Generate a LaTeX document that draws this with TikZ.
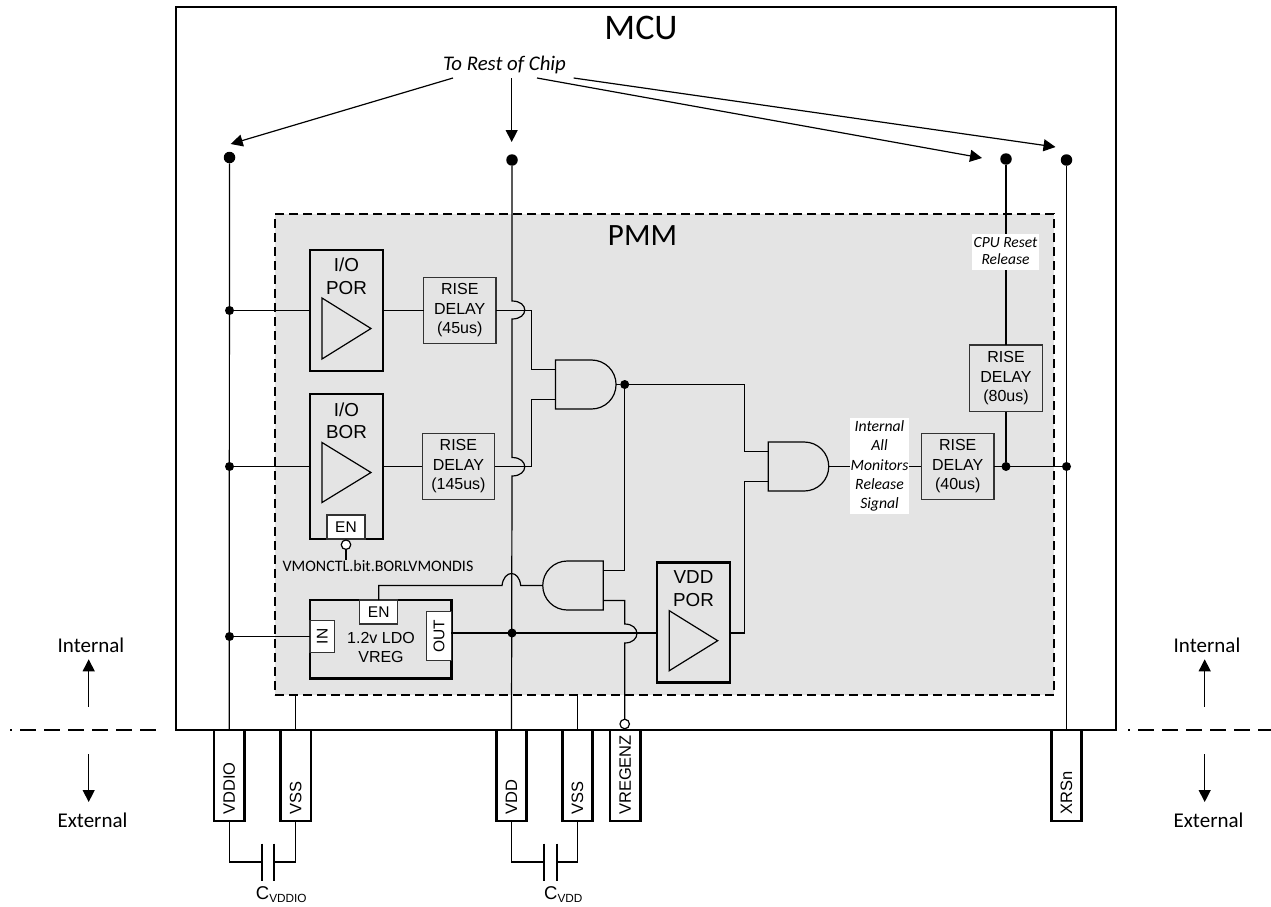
\documentclass[tikz,border=0pt]{standalone}
\usepackage{fontspec}
\setmainfont{Liberation Sans}
\newfontfamily\carlito{Carlito}
\usetikzlibrary{arrows.meta,shapes.misc}
\definecolor{pmmgray}{HTML}{E4E4E4}
\definecolor{delaygray}{HTML}{333333}
\tikzset{
  wire/.style={line width=1.2pt,line join=miter},
  tiparrow/.style={line width=1.2pt,-{Triangle[length=12pt,width=12pt]}},
  heavybox/.style={shape=rectangle,draw=black,line width=2.6pt,fill=pmmgray,inner sep=0pt,outer sep=0pt},
  pinbox/.style={shape=rectangle,draw=black,line width=2.6pt,fill=white,inner sep=0pt,outer sep=0pt,minimum width=30.5pt,minimum height=91pt},
  delaybox/.style={shape=rectangle,draw=delaygray,line width=1.2pt,fill=pmmgray,inner sep=0pt,outer sep=0pt,minimum width=72.5pt,minimum height=66.5pt,align=center,font=\fontsize{16}{19.5}\selectfont},
  portbox/.style={shape=rectangle,draw=delaygray,line width=1.2pt,fill=white,inner sep=0pt,outer sep=0pt,font=\fontsize{15.5}{18}\selectfont},
  andgate/.style={shape=rounded rectangle,rounded rectangle west arc=none,draw=black,line width=1.2pt,fill=pmmgray,inner sep=0pt,outer sep=0pt,minimum width=60.5pt,minimum height=49pt},
  andgateflip/.style={shape=rounded rectangle,rounded rectangle east arc=none,draw=black,line width=1.2pt,fill=pmmgray,inner sep=0pt,outer sep=0pt,minimum width=60.5pt,minimum height=49pt},
  dotbig/.style={shape=circle,fill=black,inner sep=0pt,outer sep=0pt,minimum size=11.5pt},
  dotsmall/.style={shape=circle,fill=black,inner sep=0pt,outer sep=0pt,minimum size=9pt},
  opendot/.style={shape=circle,draw=black,line width=1.2pt,fill=white,inner sep=0pt,outer sep=0pt,minimum size=9.5pt},
  boundary/.style={line width=1.6pt,dash pattern=on 16pt off 8pt,dash phase=14pt},
  sidelabel/.style={inner sep=0pt,font=\carlito\fontsize{21}{24}\selectfont},
  bigtext/.style={inner sep=0pt,align=center,font=\fontsize{18.8}{22.5}\selectfont},
  pintext/.style={inner sep=0pt,rotate=90,anchor=west,font=\fontsize{16.5}{18}\selectfont},
  plate/.style={line width=1.8pt},
  notelabel/.style={shape=rectangle,fill=white,inner sep=0pt,align=center}
}
\begin{document}
\begin{tikzpicture}[x=1pt,y=-1pt]
\useasboundingbox (0,0) rectangle (1271,907);
\node[shape=rectangle,draw=black,line width=2.6pt,inner sep=0pt,outer sep=0pt,minimum width=940pt,minimum height=723pt](MCU) at (646,368.5) {};
\node[shape=rectangle,draw=black,line width=1.2pt,dash pattern=on 9pt off 5pt,fill=pmmgray,inner sep=0pt,outer sep=0pt,minimum width=779pt,minimum height=481pt](PMM) at (664.5,454.5) {};
\node[inner sep=0pt,font=\carlito\fontsize{36}{38}\selectfont](MCUtitle) at (641,28) {MCU};
\node[inner sep=0pt,font=\carlito\fontsize{31}{34}\selectfont](PMMtitle) at (642.5,236) {PMM};
\node[inner sep=0pt,font=\carlito\itshape\fontsize{20.8}{24}\selectfont](toRest) at (504.5,65) {To Rest of Chip};

\coordinate (fromA) at (453,78);
\coordinate (tipA) at (230.7,144);
\coordinate (fromB) at (511.7,78);
\coordinate (tipB) at (511.7,142);
\coordinate (fromC) at (537,78);
\coordinate (tipC) at (982,158);
\coordinate (fromD) at (573.7,78);
\coordinate (tipD) at (1055.5,147);
\path[tiparrow] (fromA) edge (tipA);
\path[tiparrow] (fromB) edge (tipB);
\path[tiparrow] (fromC) edge (tipC);
\path[tiparrow] (fromD) edge (tipD);

\node[dotbig](railIO) at (229.5,157.5) {};
\node[dotbig](railVDD) at (512,160) {};
\node[dotbig](railCPU) at (1006,159) {};
\node[dotbig](railXRS) at (1066.5,160) {};

\node[heavybox,minimum width=73pt,minimum height=121pt](ioPOR) at (346.5,310.5) {};
\node[heavybox,minimum width=73pt,minimum height=145pt](ioBOR) at (346.5,466.5) {};
\node[heavybox,minimum width=73pt,minimum height=120.5pt](vddPOR) at (693.5,622.5) {};
\node[heavybox,minimum width=141.3pt,minimum height=78.7pt](LDO) at (380.6,639.3) {};
\node[bigtext](ioPORtext) at (346.5,276.5) {I/O\\POR};
\node[bigtext](ioBORtext) at (346.5,421) {I/O\\BOR};
\node[bigtext](vddPORtext) at (693.5,588.7) {VDD\\POR};
\node[inner sep=0pt,align=center,font=\fontsize{16}{19}\selectfont](LDOtext) at (381,647.5) {1.2v LDO\\VREG};
\draw[wire] (322,298) -- (371,328.5) -- (322,359) -- cycle;
\draw[wire] (322,442.5) -- (371,472.5) -- (322,502.5) -- cycle;
\draw[wire] (669.3,610.7) -- (717.7,640.7) -- (669.3,670.7) -- cycle;

\node[portbox,minimum width=38pt,minimum height=24pt](borEN) at (346,527) {EN};
\node[portbox,minimum width=38pt,minimum height=24pt](ldoEN) at (378.7,612) {EN};
\node[portbox,minimum width=24.7pt,minimum height=32.7pt](ldoIN) at (322.3,636.5) {\rotatebox{90}{IN}};
\node[portbox,minimum width=24.6pt,minimum height=48.6pt](ldoOUT) at (439,636) {\rotatebox{90}{OUT}};

\node[delaybox](delayA) at (459.75,310.5) {RISE\\DELAY\\(45us)};
\node[delaybox](delayB) at (458.4,466.5) {RISE\\DELAY\\(145us)};
\node[delaybox](delayC) at (957.7,466.5) {RISE\\DELAY\\(40us)};
\node[delaybox](delayD) at (1006,378.3) {RISE\\DELAY\\(80us)};

\node[andgate](andA) at (585.8,384.5) {};
\node[andgate](andB) at (798.5,466.5) {};
\node[andgateflip](andC) at (573,585.5) {};

\node[dotsmall](jIOPOR) at (229.5,310.5) {};
\node[dotsmall](jIOBOR) at (229.5,466.5) {};
\node[dotsmall](jLDO) at (229.5,636.5) {};
\node[dotsmall](jOUT) at (512,633) {};
\node[dotsmall](jAND) at (624.7,384.5) {};
\node[dotsmall](jCPU) at (1006,466.5) {};
\node[dotsmall](jXRS) at (1066.5,466.5) {};
\node[opendot](ocBOR) at (346,544.7) {};
\node[opendot](ocVREG) at (624.7,724) {};
\node[inner sep=0pt,font=\carlito\fontsize{16}{18}\selectfont](vmon) at (378,566) {VMONCTL.bit.BORLVMONDIS};

\node[pinbox](pinVDDIO) at (229.2,775.5) {};
\node[pinbox](pinVSSa) at (295.7,775.5) {};
\node[pinbox](pinVDD) at (511.5,775.5) {};
\node[pinbox](pinVSSb) at (577.5,775.5) {};
\node[pinbox](pinVREG) at (625.3,775.5) {};
\node[pinbox](pinXRS) at (1066.5,775.5) {};
\node[pintext] (pinVDDIOtext) at (229.2,815) {VDDIO};
\node[pintext] (pinVSSatext) at (295.7,815) {VSS};
\node[pintext] (pinVDDtext) at (511.5,815) {VDD};
\node[pintext] (pinVSSbtext) at (577.5,815) {VSS};
\node[pintext] (pinVREGtext) at (625.3,815) {VREGENZ};
\node[pintext] (pinXRStext) at (1066.5,815) {XRSn};

\path[wire] (railIO) edge (pinVDDIO.north);
\path[wire] (railCPU) edge (delayD.north);
\path[wire] (delayD.south) edge (jCPU);
\path[wire] (railXRS) edge (pinXRS.north);
\path[wire] (jIOPOR) edge (ioPOR.west);
\path[wire] (jIOBOR) edge (ioBOR.west);
\path[wire] (jLDO) edge (ldoIN.west);
\path[wire] (ioPOR.east) edge (delayA.west);
\path[wire] (ioBOR.east) edge (delayB.west);
\path[wire] (delayC.east) edge (jXRS);
\path[wire] (andA.east) edge (jAND);
\path[wire] (ocBOR) edge (ocBOR |- vmon.north);
\path[wire] (pinVSSa.north) edge (pinVSSa |- PMM.south);
\path[wire] (pinVSSb.north) edge (pinVSSb |- PMM.south);
\path[wire] (LDO.east |- jOUT) edge (vddPOR.west |- jOUT);
\path[wire] (andB.east) edge (delayC.west);

\draw[wire] (railVDD) -- (512,301) .. controls (529,301) and (529,319) .. (512,319) -- (512,457.5) .. controls (529,457.5) and (529,476) .. (512,476) -- (pinVDD.north);
\draw[wire] (delayA.east) -- ++(35.7,0) |- ([yshift=15pt]andA.west);
\draw[wire] (delayB.east) -- ++(37.2,0) |- ([yshift=-15pt]andA.west);
\draw[wire] (jAND) -- ++(120,0) |- ([yshift=15pt]andB.west);
\draw[wire] (vddPOR.east |- jOUT) -- ++(14.7,0) |- ([yshift=-15pt]andB.west);
\draw[wire] (jAND) |- ([yshift=15pt]andC.east);
\draw[wire] ([yshift=-15pt]andC.east) -| (624.7,624) .. controls (641,624) and (641,643) .. (624.7,643) -- (ocVREG);
\draw[wire] (ldoEN.north) |- (502,585.5) .. controls (504,569.5) and (519,569.5) .. (520.7,585.5) -- (andC.west);

\node[notelabel,minimum width=67pt,minimum height=36pt,font=\carlito\itshape\fontsize{15.5}{17}\selectfont](cpuNote) at (1005.5,251.5) {CPU Reset\\Release};
\node[notelabel,minimum width=59pt,minimum height=96pt,font=\carlito\itshape\fontsize{15.7}{19.2}\selectfont](allNote) at (879.5,466) {Internal\\All\\Monitors\\Release\\Signal};

\coordinate (capAl) at (262.3,862);
\coordinate (capAr) at (274.3,862);
\coordinate (capBl) at (544.3,862);
\coordinate (capBr) at (556.7,862);
\draw[wire] (pinVDDIO.south) |- (capAl);
\draw[wire] (pinVSSa.south) |- (capAr);
\draw[wire] (pinVDD.south) |- (capBl);
\draw[wire] (pinVSSb.south) |- (capBr);
\draw[plate] ([yshift=18.5pt]capAl) -- ([yshift=-18.5pt]capAl);
\draw[plate] ([yshift=18.5pt]capAr) -- ([yshift=-18.5pt]capAr);
\draw[plate] ([yshift=18.5pt]capBl) -- ([yshift=-18.5pt]capBl);
\draw[plate] ([yshift=18.5pt]capBr) -- ([yshift=-18.5pt]capBr);
\node[inner sep=0pt,font=\fontsize{18.5}{20}\selectfont](capAtext) at (281.3,895) {C{\fontsize{11.8}{12}\selectfont\raisebox{-3pt}{VDDIO}}};
\node[inner sep=0pt,font=\fontsize{18.5}{20}\selectfont](capBtext) at (563.3,895) {C{\fontsize{11.8}{12}\selectfont\raisebox{-3pt}{VDD}}};

\coordinate (sepLa) at (10,730);
\coordinate (sepLb) at (156,730);
\coordinate (sepRa) at (1128,730);
\coordinate (sepRb) at (1271,730);
\path[boundary] (sepLa) edge (sepLb);
\path[boundary] (sepRa) edge (sepRb);
\node[sidelabel](intL) at (91,645.7) {Internal};
\node[sidelabel](extL) at (92.5,820.7) {External};
\node[sidelabel](intR) at (1207,645.7) {Internal};
\node[sidelabel](extR) at (1208.5,820.7) {External};
\coordinate (upLa) at (88.7,706.7);
\coordinate (upLb) at (88.7,659.3);
\coordinate (dnLa) at (88.7,754.3);
\coordinate (dnLb) at (88.7,802);
\coordinate (upRa) at (1204.7,706.7);
\coordinate (upRb) at (1204.7,659.3);
\coordinate (dnRa) at (1204.7,754.3);
\coordinate (dnRb) at (1204.7,802);
\path[tiparrow] (upLa) edge (upLb);
\path[tiparrow] (dnLa) edge (dnLb);
\path[tiparrow] (upRa) edge (upRb);
\path[tiparrow] (dnRa) edge (dnRb);
\end{tikzpicture}
\end{document}
